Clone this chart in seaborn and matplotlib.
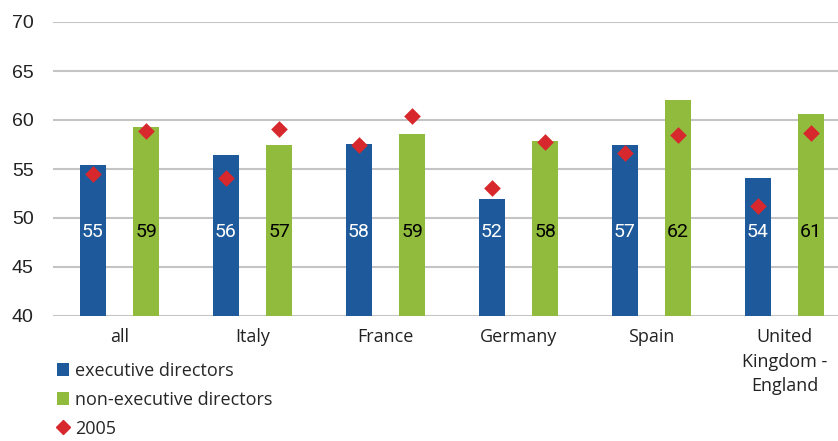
import matplotlib
matplotlib.use('Agg')
import matplotlib.pyplot as plt
import seaborn as sns
import pandas as pd
from matplotlib.patches import Patch
from matplotlib.lines import Line2D

categories = ['all', 'Italy', 'France', 'Germany', 'Spain', 'United\nKingdom -\nEngland']
series = ['executive directors', 'non-executive directors']
exec_values = [55.4, 56.4, 57.6, 51.9, 57.4, 54.1]
nonexec_values = [59.3, 57.4, 58.6, 57.9, 62.0, 60.6]
exec_2005 = [54.5, 54.1, 57.4, 53.1, 56.6, 51.2]
nonexec_2005 = [58.9, 59.1, 60.4, 57.8, 58.5, 58.7]
marker_label = '2005'
yticks = [40, 45, 50, 55, 60, 65, 70]

BLUE = '#1E5A9B'
GREEN = '#90BB3D'
RED = '#D7282D'
GRID = '#C4C4C4'

bars = pd.DataFrame({
    'category': categories * 2,
    'series': [series[0]] * len(categories) + [series[1]] * len(categories),
    'value': exec_values + nonexec_values,
})
points = pd.DataFrame({
    'category': categories * 2,
    'series': [series[0]] * len(categories) + [series[1]] * len(categories),
    'value': exec_2005 + nonexec_2005,
})

sns.set_style('white')
plt.rcParams['font.family'] = ['Liberation Sans', 'DejaVu Sans']

TXT = ['Open Sans', 'DejaVu Sans']

W, H = 838, 441
fig = plt.figure(figsize=(W / 100, H / 100), dpi=100)
ax = fig.add_axes([53 / W, (H - 316) / H, 798 / W, 294 / H])

sns.barplot(data=bars, x='category', y='value', hue='series', order=categories,
            hue_order=series, palette=[BLUE, GREEN], saturation=1, width=0.8, gap=0.5,
            ax=ax, legend=False, zorder=2, edgecolor='none')
sns.stripplot(data=points, x='category', y='value', hue='series', order=categories,
              hue_order=series, palette=[RED, RED], dodge=True, jitter=False,
              marker='D', size=8.5, linewidth=0, ax=ax, legend=False, zorder=4)

# value labels inside bars
for cont, vals, col in zip(ax.containers, [exec_values, nonexec_values], ['white', 'black']):
    for bar, v in zip(cont, vals):
        ax.text(bar.get_x() + bar.get_width() / 2, 48.6, f'{v:.0f}',
                ha='center', va='center', color=col, fontsize=14,
                family=['Roboto', 'DejaVu Sans'], zorder=5)

ax.set_ylim(40, 70)
ax.set_xlim(-0.5, 5.5)
ax.set_yticks(yticks)
ax.set_yticklabels([str(t) for t in yticks], fontsize=14, color='#222222',
                   family=['Liberation Sans', 'DejaVu Sans'])
ax.set_xlabel('')
ax.set_ylabel('')
ax.tick_params(axis='y', length=0, pad=14)
ax.tick_params(axis='x', length=0, pad=9)
for lab in ax.get_xticklabels():
    lab.set_fontsize(13)
    lab.set_family(TXT)
    lab.set_linespacing(1.45)
    lab.set_color('#222222')
ax.yaxis.grid(True, color=GRID, linewidth=1.5, zorder=0)
ax.set_axisbelow(True)
for s in ax.spines.values():
    s.set_visible(False)

handles = [
    Patch(facecolor=BLUE, edgecolor='none', label=series[0]),
    Patch(facecolor=GREEN, edgecolor='none', label=series[1]),
    Line2D([], [], marker='D', color=RED, linestyle='none', markersize=7, label=marker_label),
]
fig.legend(handles=handles, loc='upper left', bbox_to_anchor=(57 / W, 1 - 362 / H),
           frameon=False, handlelength=0.68, handleheight=0.68, handletextpad=0.3,
           labelspacing=0.6, borderaxespad=0, borderpad=0,
           prop={'family': TXT, 'size': 13})

fig.savefig('out.png', dpi=100)
